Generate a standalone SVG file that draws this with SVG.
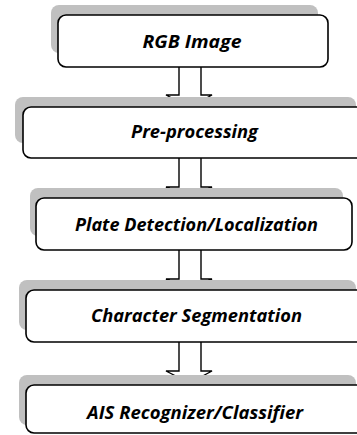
<svg xmlns="http://www.w3.org/2000/svg" width="357" height="435" viewBox="0 0 357 435">
<style>
.sh{fill:#c0c0c0;stroke:none}
.bx{fill:#fff;stroke:#000;stroke-width:1.6}
.ar{fill:#fff;stroke:#000;stroke-width:1.4;stroke-linejoin:miter}
.t{font-family:"Open Sans","Liberation Sans",sans-serif;font-weight:bold;font-style:italic;font-size:18.5px;fill:#000;text-anchor:middle}
</style>
<rect width="357" height="435" fill="#fff"/>
<g id="connectors">
<path class="ar" d="M179,67 V95 H166 L189.5,107 L212,95 H201 V67"/>
<path class="ar" d="M179,158 V187 H166 L189.5,198 L212,187 H201 V158"/>
<path class="ar" d="M179,250 V279 H166 L189.5,290 L212,279 H201 V250"/>
<path class="ar" d="M179,342 V371 H166 L189.5,383 L212,371 H201 V342"/>
</g>
<g id="n1">
<rect class="sh" x="51" y="5" width="267" height="48" rx="8"/>
<rect class="bx" x="58" y="15" width="270" height="52" rx="8"/>
<text class="t" x="192" y="48" textLength="99" lengthAdjust="spacingAndGlyphs">RGB Image</text>
</g>
<g id="n2">
<rect class="sh" x="15" y="97" width="341" height="46" rx="8"/>
<rect class="bx" x="23" y="107" width="345" height="51" rx="8"/>
<text class="t" x="194.5" y="138" textLength="127" lengthAdjust="spacingAndGlyphs">Pre-processing</text>
</g>
<g id="n3">
<rect class="sh" x="30" y="188" width="313" height="48" rx="8"/>
<rect class="bx" x="36" y="198" width="316" height="52" rx="8"/>
<text class="t" x="196.5" y="231" textLength="243" lengthAdjust="spacingAndGlyphs">Plate Detection/Localization</text>
</g>
<g id="n4">
<rect class="sh" x="19" y="280" width="337" height="50" rx="8"/>
<rect class="bx" x="26" y="290" width="345" height="52" rx="8"/>
<text class="t" x="196.5" y="322" textLength="211" lengthAdjust="spacingAndGlyphs">Character Segmentation</text>
</g>
<g id="n5">
<rect class="sh" x="19" y="375" width="337" height="50" rx="8"/>
<rect class="bx" x="26" y="385" width="345" height="48" rx="8"/>
<text class="t" x="195" y="419" textLength="216" lengthAdjust="spacingAndGlyphs">AIS Recognizer/Classifier</text>
</g>
</svg>
